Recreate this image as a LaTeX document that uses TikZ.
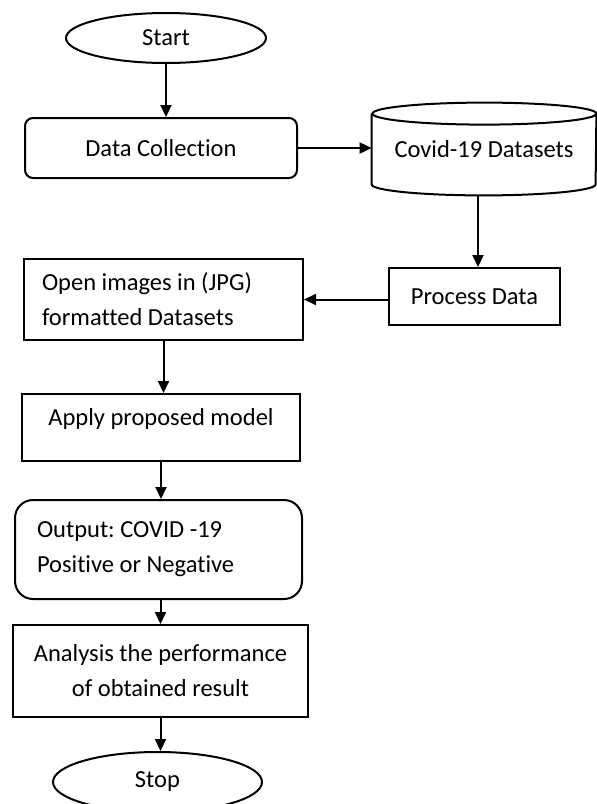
\documentclass[tikz,border=0pt]{standalone}
\usepackage{fontspec}
\setmainfont{Carlito}[Ligatures=NoCommon]
\usetikzlibrary{arrows.meta, positioning, shapes.geometric}
\frenchspacing

\begin{document}
\begin{tikzpicture}[
  x=0.5pt, y=-0.5pt,
  font=\fontsize{12.25pt}{17.5pt}\selectfont,
  box/.style={rectangle, draw, line width=1pt, inner sep=0pt, align=center},
  rbox/.style={box, rounded corners=4pt},
  term/.style={ellipse, draw, line width=1pt, inner sep=0pt},
  arr/.style={-{Triangle[length=6pt, width=5.5pt]}, line width=1pt}
]
\useasboundingbox (0,0) rectangle (597,804);
\node[term, minimum width=100pt, minimum height=25pt] (a) at (166,38) {Start};
\node[rbox, minimum width=136pt, minimum height=30pt] (b) at (161,148) {Data Collection};
\node[inner sep=0pt, minimum width=112pt, minimum height=46pt] (c) at (484,149) {Covid-19 Datasets};
\node[box, minimum width=85.5pt, minimum height=28.5pt] (d) at (474.5,296.5) {Process Data};
\node[box, align=flush left, text width=121.5pt, inner xsep=9pt, minimum height=40.5pt] (e) at (163.5,299.5) {Open images in (JPG)\\formatted Datasets};
\node[box, minimum width=139pt, minimum height=33.5pt, text height=9pt, text depth=11pt] (f) at (161,427.5) {Apply proposed model};
\node[rbox, rounded corners=9pt, align=flush left, text width=121.5pt, inner xsep=11pt, minimum height=49.5pt] (g) at (158.5,549.5) {Output: COVID -19\\Positive or Negative};
\node[box, minimum width=147.5pt, minimum height=46pt] (h) at (160.5,671) {Analysis the performance\\of obtained result};
\node[term, minimum width=104.5pt, minimum height=30pt] (i) at (157.5,782) {Stop};
% database outline
\draw[line width=1pt] ([yshift=-5.5pt]c.north west) -- ([yshift=5.5pt]c.south west)
  arc[start angle=180, end angle=360, x radius=56pt, y radius=5.5pt]
  -- ([yshift=-5.5pt]c.north east)
  arc[start angle=0, end angle=180, x radius=56pt, y radius=5.5pt]
  arc[start angle=180, end angle=360, x radius=56pt, y radius=5.5pt];
\draw[arr] (a.south) -- (a.south |- b.north);
\draw[arr] (b.east) -- (b.east -| c.west);
\draw[arr] ([xshift=-3pt]c.south) -- ([xshift=-3pt]c.south |- d.north);
\draw[arr] (d.west |- e.east) -- (e.east);
\draw[arr] (e.south) -- (e.south |- f.north);
\draw[arr] (f.south) -- (f.south |- g.north);
\draw[arr] (g.south -| h.north) -- (h.north);
\draw[arr] (h.south) -- (h.south |- i.north);
\end{tikzpicture}
\end{document}
